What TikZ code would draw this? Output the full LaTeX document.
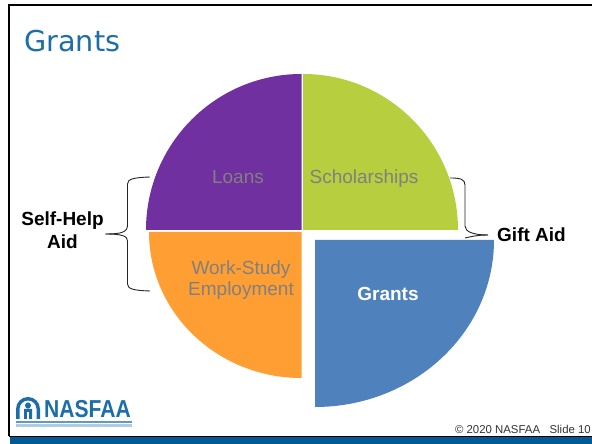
\documentclass[tikz,border=0pt]{standalone}
\usepackage{fontspec}
\setmainfont{Liberation Sans}
\newfontfamily\titlefont{DejaVu Sans}
\usetikzlibrary{positioning}
\definecolor{nasfaablue}{HTML}{005A96}
\definecolor{logoblue}{HTML}{1B6EA8}
\definecolor{loanspurple}{HTML}{7030A0}
\definecolor{scholargreen}{HTML}{B7CE3F}
\definecolor{workorange}{HTML}{FF9E33}
\definecolor{grantsblue}{HTML}{4F81BD}
\tikzset{
	inlabel/.style={text=black!50,font=\fontsize{19}{21}\selectfont,align=center,inner sep=0pt},
	sidelabel/.style={font=\fontsize{19}{23}\selectfont\bfseries,align=center,inner sep=0pt},
	bracket/.style={draw=black!85,line width=0.9pt}
}
\begin{document}
\begin{tikzpicture}[x=1pt,y=1pt]
		\useasboundingbox (0,0) rectangle (592,444);
		\fill[white] (0,0) rectangle (592,444);
		\fill[nasfaablue] (10,0) rectangle (592,7);
		\draw[black,line width=2pt] (9,7.5) -- (9,439) -- (592,439);
		\draw[black,line width=1pt] (9,7.5) -- (592,7.5);

		\coordinate (cl) at (301.5,214);
		\coordinate (cs) at (303,214);
		\coordinate (cw) at (301.5,212);
		\coordinate (cg) at (315,204);
		\fill[loanspurple] (cl) -- ++(-155.5,0) arc[start angle=180,end angle=90,x radius=155.5,y radius=156] -- cycle;
		\fill[scholargreen] (cs) -- ++(155,0) arc[start angle=0,end angle=90,x radius=155,y radius=156] -- cycle;
		\fill[workorange] (cw) -- ++(-152.5,0) arc[start angle=180,end angle=270,x radius=152.5,y radius=146] -- cycle;
		\fill[grantsblue] (cg) -- ++(179,0) arc[start angle=0,end angle=-90,x radius=179,y radius=167] -- cycle;

		\node[inlabel]	(loans)	at (238,267)	{Loans};
		\node[inlabel]	(scholar)	at (364,265.5)	{Scholarships};
		\node[inlabel]	(work)	at (241,164)	{Work-Study\\Employment};
		\node[inlabel,text=white,font=\fontsize{19}{21}\selectfont\bfseries]	(grants)	at (388,150)	{Grants};

		\node[sidelabel]	(selfhelp)	at (62.5,214)	{Self-Help\\Aid};
		\node[sidelabel]	(giftaid)	at (531.5,209)	{Gift Aid};
		\node[anchor=west,text=logoblue,inner sep=0pt]	(title)	at (24,403)	{\titlefont\fontsize{28.7}{30}\selectfont Grants};
		\node[anchor=south east,inner sep=0pt,text=black!80]	(footer)	at (591,10.5)	{\fontsize{11.4}{13}\selectfont © 2020 NASFAA\ \ \ Slide 10};

		\coordinate (lefttop) at (150,267);
		\coordinate (leftbot) at (150,153);
		\coordinate (lefttip) at (105.5,210);
		\coordinate (righttop) at (450,266);
		\coordinate (rightbot) at (465,206);
		\coordinate (righttip) at (488,209);
		\draw[bracket] (lefttop) .. controls (134,266.5) and (127.5,265) .. (127.5,260) -- (127.5,219)
			.. controls (127.5,212) and (122,210) .. (lefttip);
		\draw[bracket] (lefttip) .. controls (122,210) and (127.5,208) .. (127.5,203) -- (127.5,160)
			.. controls (127.5,155) and (134,153.5) .. (leftbot);
		\draw[bracket] (righttop) .. controls (460,266) and (465,265) .. (465,259) -- (465,218)
			.. controls (465,212) and (474,209) .. (righttip);
		\draw[bracket] (righttip) .. controls (476,209) and (470,207) .. (rightbot);

		\node[anchor=south west,inner sep=0pt,text=logoblue,xscale=0.86]	(logotext)	at (44,26.5)	{\fontsize{24.5}{24}\selectfont\bfseries NASFAA};
		\fill[logoblue!70] (16,22.5) rectangle (132,21);
		\fill[logoblue!35] (16,20) rectangle (132,17);
		\fill[logoblue,even odd rule] (16,25) -- (16,35) arc[start angle=180,end angle=0,radius=12] -- (40,25) -- (36.5,25) -- (36.5,35) arc[start angle=0,end angle=180,radius=8.5] -- (19.5,25) -- cycle;
		\fill[logoblue] (24,25) rectangle (32,35) (28,38.5) circle[radius=3];
		\fill[white] (26.8,25) rectangle (29.2,32);
    \end{tikzpicture}
\end{document}
